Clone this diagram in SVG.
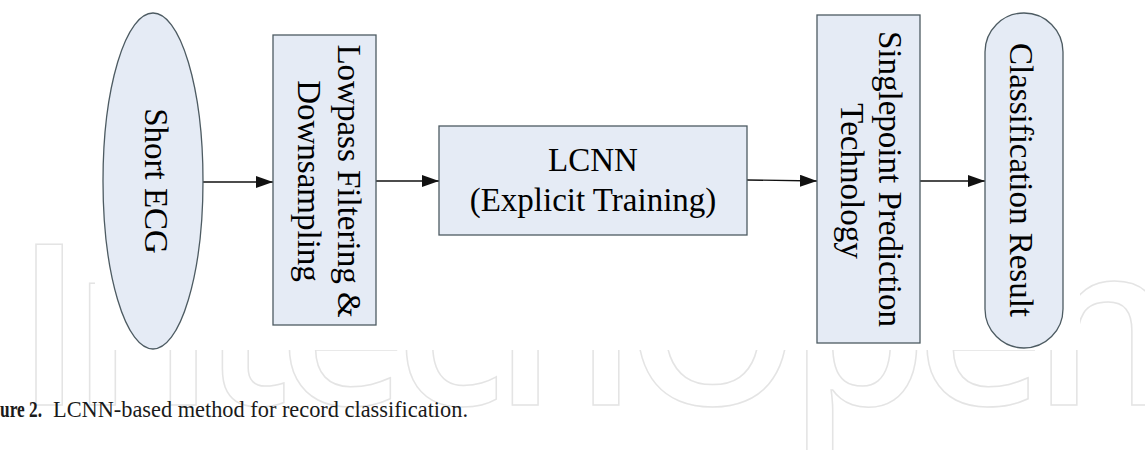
<svg xmlns="http://www.w3.org/2000/svg" width="1145" height="450" viewBox="0 0 1145 450">
<style>
.node{fill:#e5ebf5;stroke:#4d5b62;stroke-width:1.3}
.lbl{font-family:"Liberation Serif","Times New Roman",serif;font-size:33px;fill:#000;text-anchor:middle}
.edge{stroke:#111;stroke-width:1.3;fill:none}
.wm{font-family:"Open Sans","DejaVu Sans",sans-serif;font-weight:600;font-size:224px;fill:none;stroke:#e4e4e4;stroke-width:1.5}
.cap{font-family:"Liberation Serif","Times New Roman",serif;font-size:23px;fill:#1a1a1a}
</style>
<defs>
<marker id="arr" markerUnits="userSpaceOnUse" markerWidth="17" markerHeight="12" refX="17" refY="6" orient="auto">
<path d="M0,0 L17,6 L0,12 z" fill="#111"/>
</marker>
<clipPath id="wmclip">
<path clip-rule="evenodd" d="M0,0H1145V450H0Z M95,0V350H1080V0Z"/>
</clipPath>
</defs>
<rect width="1145" height="450" fill="#fff"/>
<g id="watermark" clip-path="url(#wmclip)">
<text class="wm" x="15" y="405" textLength="1160" lengthAdjust="spacing">IntechOpen</text>
</g>
<g id="connectors">
<line class="edge" x1="203" y1="182" x2="273" y2="182" marker-end="url(#arr)"/>
<line class="edge" x1="376" y1="181" x2="439" y2="181" marker-end="url(#arr)"/>
<line class="edge" x1="747" y1="180" x2="817" y2="181" marker-end="url(#arr)"/>
<line class="edge" x1="920" y1="181" x2="985" y2="181" marker-end="url(#arr)"/>
</g>
<g id="short-ecg">
<ellipse class="node" cx="153" cy="181" rx="50" ry="168"/>
<text class="lbl" transform="translate(145,181) rotate(90)">Short ECG</text>
</g>
<g id="lowpass">
<rect class="node" x="273" y="35" width="103" height="290"/>
<text class="lbl" transform="translate(338,181) rotate(90)">Lowpass Filtering &amp;</text>
<text class="lbl" transform="translate(298,181) rotate(90)">Downsampling</text>
</g>
<g id="lcnn">
<rect class="node" x="439" y="126" width="308" height="109"/>
<text class="lbl" x="593" y="171">LCNN</text>
<text class="lbl" x="593" y="211">(Explicit Training)</text>
</g>
<g id="singlepoint">
<rect class="node" x="817" y="15" width="103" height="328"/>
<text class="lbl" transform="translate(879,179) rotate(90)">Singlepoint Prediction</text>
<text class="lbl" transform="translate(841,181) rotate(90)">Technology</text>
</g>
<g id="result">
<rect class="node" x="985" y="13" width="78" height="335" rx="39" ry="39"/>
<text class="lbl" transform="translate(1010,180) rotate(90)">Classification Result</text>
</g>
<g id="caption">
<text class="cap" x="0" y="417" font-weight="bold" textLength="42" lengthAdjust="spacingAndGlyphs">ure 2.</text>
<text class="cap" x="53" y="417" textLength="415" lengthAdjust="spacingAndGlyphs">LCNN-based method for record classification.</text>
</g>
</svg>
